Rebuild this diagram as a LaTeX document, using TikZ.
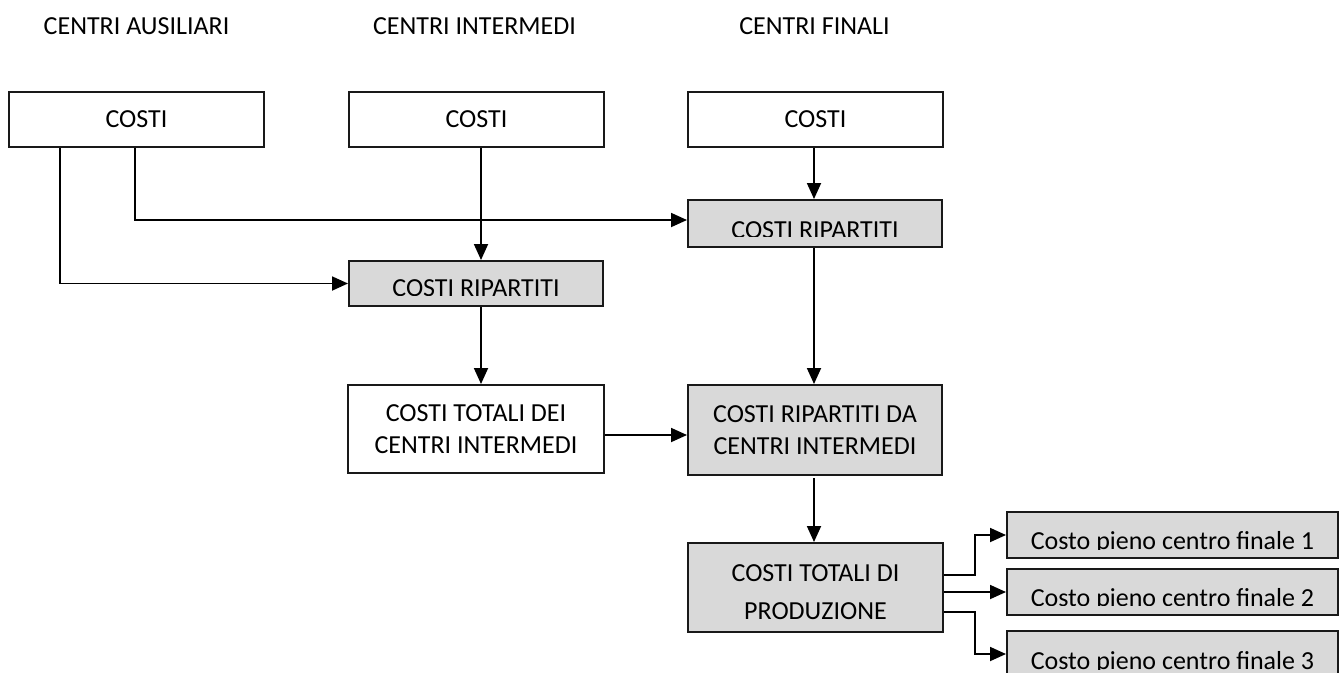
\documentclass[tikz,border=0pt]{standalone}
\usepackage{fontspec}
\setmainfont{Carlito}
\usetikzlibrary{arrows.meta,calc}
\definecolor{boxgray}{RGB}{217,217,217}
\definecolor{linegray}{RGB}{25,25,25}
\tikzset{
  box/.style={draw=linegray, line width=2pt, inner sep=0pt, align=center,
    font=\fontsize{26}{32}\selectfont},
  graybox/.style={box, fill=boxgray},
  lbl/.style={inner sep=0pt, font=\fontsize{26}{32}\selectfont},
  arr/.style={line width=1.8pt, draw=black, -{Triangle[length=16pt,width=14pt]}},
  plain/.style={line width=1.8pt, draw=black}
}
\begin{document}
\begin{tikzpicture}[x=1pt,y=-1pt]
\clip (0,0) rectangle (1340,672);
\fill[white] (0,0) rectangle (1340,672);

% headers
\node[lbl,anchor=base] (h1) at (136.5,34) {CENTRI AUSILIARI};
\node[lbl,anchor=base] (h2) at (474.5,34) {CENTRI INTERMEDI};
\node[lbl,anchor=base] (h3) at (814.5,34) {CENTRI FINALI};

% top boxes
\node[box, minimum width=255pt, minimum height=55pt] (A1) at (136.5,119.5) {COSTI};
\node[box, minimum width=255pt, minimum height=55pt] (B1) at (476.5,119.5) {COSTI};
\node[box, minimum width=255pt, minimum height=55pt] (C1) at (815.5,119.5) {COSTI};

% costi ripartiti
\node[graybox, minimum width=254pt, minimum height=45pt] (B2) at (476,283.5) {};
\begin{scope}
  \clip (349,261) rectangle (603,295.5);
  \node[lbl,anchor=base] (tB2) at (476,296.7) {COSTI RIPARTITI};
\end{scope}
\node[graybox, minimum width=254pt, minimum height=47pt] (C2) at (815,223.5) {};
\begin{scope}
  \clip (688,200) rectangle (942,236);
  \node[lbl,anchor=base] (tC2) at (815,238) {COSTI RIPARTITI};
\end{scope}

% middle row
\node[box, minimum width=256pt, minimum height=88pt] (B3) at (476,429) {COSTI TOTALI DEI\\CENTRI INTERMEDI};
\node[graybox, minimum width=254pt, minimum height=90pt] (C3) at (815,430) {COSTI RIPARTITI DA\\CENTRI INTERMEDI};

% totals
\node[graybox, minimum width=255pt, minimum height=89pt] (C4) at (815.5,587.5) {};
\node[lbl, align=center, font=\fontsize{26}{37.7}\selectfont] (tC4) at (815.5,592) {COSTI TOTALI DI\\PRODUZIONE};

% final boxes
\node[graybox, minimum width=331pt, minimum height=46pt] (D1) at (1172.5,535) {};
\node[graybox, minimum width=331pt, minimum height=46pt] (D2) at (1172.5,592) {};
\node[graybox, minimum width=331pt, minimum height=46pt] (D3) at (1172.5,654) {};
\begin{scope}
  \clip (1007,512) rectangle (1338,549.5);
  \node[lbl,anchor=base] (tD1) at (1172.5,549.4) {Costo pieno centro finale 1};
\end{scope}
\begin{scope}
  \clip (1007,569) rectangle (1338,605.5);
  \node[lbl,anchor=base] (tD2) at (1172.5,606.7) {Costo pieno centro finale 2};
\end{scope}
\begin{scope}
  \clip (1007,631) rectangle (1338,669.5);
  \node[lbl,anchor=base] (tD3) at (1172.5,669.5) {Costo pieno centro finale 3};
\end{scope}

% helper coordinates
\coordinate (xa) at (60,0);
\coordinate (xb) at (135,0);
\coordinate (xm) at (481,0);
\coordinate (xf) at (814,0);
\coordinate (yc) at (0,435);
\coordinate (o1) at (975,575);
\coordinate (o3) at (975,612);
\coordinate (y1) at (0,575);
\coordinate (y3) at (0,612);

% connectors
\draw[arr] (A1.south -| xa) |- (B2.west);
\draw[arr] (A1.south -| xb) |- ([yshift=3.5pt]C2.west);
\draw[arr] (B1.south -| xm) -- (B2.north -| xm);
\draw[arr] (B2.south -| xm) -- (B3.north -| xm);
\draw[arr] (C1.south -| xf) -- (C2.north -| xf);
\draw[arr] (C2.south -| xf) -- (C3.north -| xf);
\draw[arr] (B3.east |- yc) -- (C3.west |- yc);
\draw[arr, shorten <=2pt] (C3.south -| xf) -- (C4.north -| xf);
\draw[arr] (C4.east |- y1) -- (o1) |- (D1.west);
\draw[arr] (C4.east |- D2.west) -- (D2.west);
\draw[arr] (C4.east |- y3) -- (o3) |- (D3.west);
\end{tikzpicture}
\end{document}
